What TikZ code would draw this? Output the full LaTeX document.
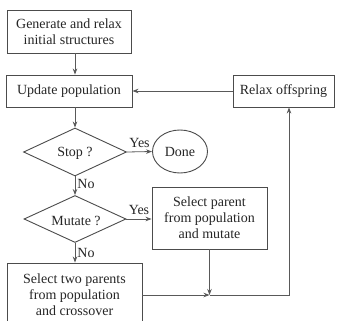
\documentclass[tikz,border=0pt]{standalone}
\usepackage{fontspec}
\setmainfont{Liberation Serif}
\usetikzlibrary{shapes.geometric,arrows.meta,calc}
\begin{document}
\begin{tikzpicture}[x=1pt,y=-1pt,
  every node/.style={font=\fontsize{14}{16}\selectfont, text=black!85},
  box/.style={draw=black!70, line width=0.9pt, rectangle, align=center, inner sep=0pt},
  dia/.style={draw=black!70, line width=0.9pt, diamond, inner sep=0pt},
  oval/.style={draw=black!70, line width=0.9pt, ellipse, inner sep=0pt},
  conn/.style={draw=black!65, line width=0.8pt},
  arr/.style={conn, -{Stealth[length=6pt,width=4.5pt]}},
  lab/.style={inner sep=0pt}]
\useasboundingbox (0,0) rectangle (340,321);
\fill[white] (0,0) rectangle (340,321);
\clip (0,0) rectangle (340,321);

\node[box, minimum width=124pt, minimum height=43pt] (gen) at (69,31.5) {Generate and relax\\initial structures};
\node[box, minimum width=126pt, minimum height=32pt] (upd) at (69,91) {Update population};
\node[box, minimum width=101pt, minimum height=32pt] (rel) at (283.5,91) {Relax offspring};
\node[dia, minimum width=103pt, minimum height=48pt] (stop) at (75,152) {};
\node[lab] (stopt) at (75,153) {Stop ?};
\node[oval, minimum width=55pt, minimum height=43pt] (done) at (180,151.5) {Done};
\node[dia, minimum width=102pt, minimum height=47pt] (mut) at (75,219) {};
\node[lab] (mutt) at (76,221) {Mutate ?};
\node[box, minimum width=115pt, minimum height=62pt] (selp) at (209.5,218) {Select parent\\from population\\and mutate};
\node[box, minimum width=135pt, minimum height=64pt] (sel2) at (74.5,295) {Select two parents\\from population\\and crossover};

\coordinate (J) at (selp.south |- sel2.east);
\coordinate (C) at ([xshift=5.5pt]rel.south |- sel2.east);
\coordinate (R) at ([xshift=5.5pt]rel.south);

\draw[arr] (gen.south -| stop.north) -- (upd.north -| stop.north);
\draw[arr] (upd.south -| stop.north) -- (stop.north);
\draw[arr] (stop.east) -- (done.west) node[midway, above=4pt, lab] (y1) {Yes};
\draw[arr] (stop.south) -- (mut.north) node[midway, right=2pt, yshift=2pt, lab] (n1) {No};
\draw[arr] (mut.east) -- (selp.west |- mut.east) node[midway, above=4pt, lab] (y2) {Yes};
\draw[arr] (mut.south) -- (sel2.north -| mut.south) node[midway, right=2pt, lab] (n2) {No};
\draw[arr] (sel2.east) -- (J);
\draw[arr] (selp.south) -- (J);
\draw[arr] (J) -- (C) -- (R);
\draw[arr] (rel.west) -- (upd.east);
\end{tikzpicture}
\end{document}
